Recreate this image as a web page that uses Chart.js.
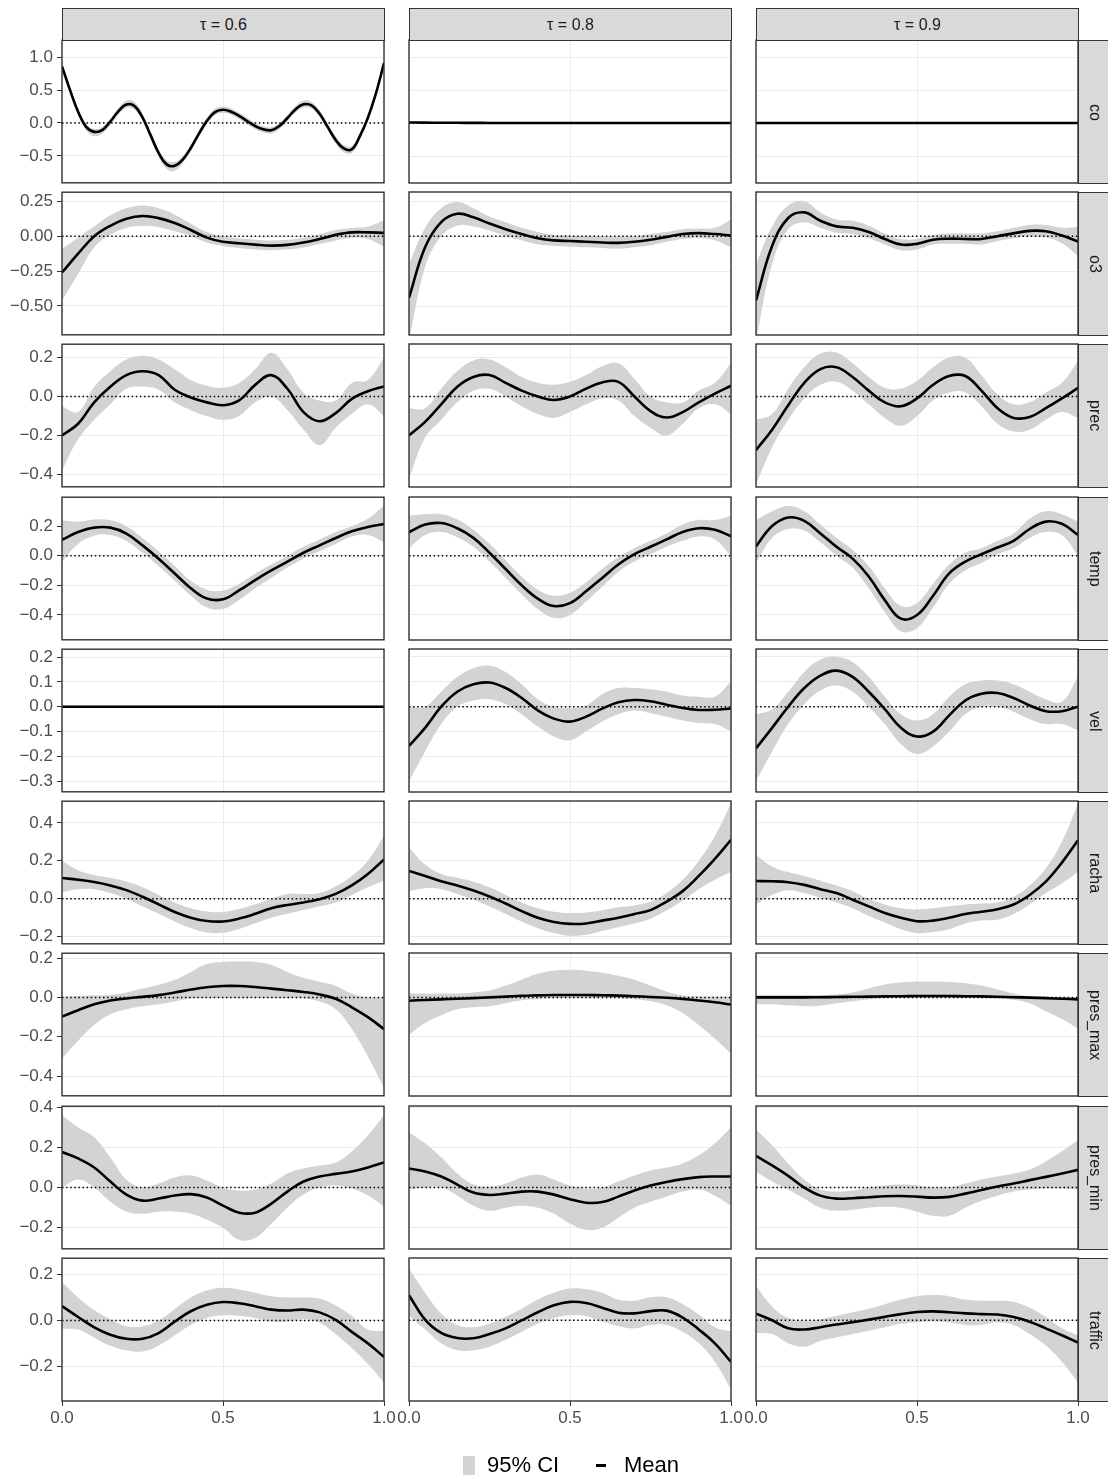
<!DOCTYPE html>
<html>
<head>
<meta charset="utf-8">
<script src="https://cdn.jsdelivr.net/npm/chart.js@4.4.1/dist/chart.umd.min.js"></script>
<style>
  body { margin:0; background:#fff; width:1108px; height:1479px; position:relative; overflow:hidden;
         font-family:"Liberation Sans", Arial, sans-serif; }
  canvas { position:absolute; }
  .strip-top { position:absolute; top:8px; height:33px; background:#d9d9d9; border:1px solid #333;
               box-sizing:border-box; color:#1a1a1a; font-size:16px; display:flex; align-items:center; justify-content:center; }
  .strip-right { position:absolute; left:1078px; width:34px; height:144px; background:#d9d9d9; border:1px solid #333;
                 box-sizing:border-box; color:#1a1a1a; font-size:16px; display:flex; align-items:center; justify-content:center;
                 writing-mode:vertical-rl; }
  .legend-key { position:absolute; }
  .legend-text { position:absolute; top:1452px; font-size:22px; color:#000; line-height:26px; }
</style>
</head>
<body>
<script>
// x grids (fraction of the period)
const xs = [0,0.05,0.1,0.15,0.2,0.25,0.3,0.35,0.4,0.45,0.5,0.55,0.6,0.65,0.7,0.75,0.8,0.85,0.9,0.95,1];
const xsFine = [0,0.025,0.05,0.075,0.1,0.125,0.15,0.175,0.2,0.225,0.25,0.275,0.3,0.325,0.35,0.375,0.4,0.425,0.45,0.475,
                0.5,0.525,0.55,0.575,0.6,0.625,0.65,0.675,0.7,0.725,0.75,0.775,0.8,0.825,0.85,0.875,0.9,0.925,0.95,0.975,1];

const variables = ['co','o3','prec','temp','vel','racha','pres_max','pres_min','traffic'];
const taus = ['0.6','0.8','0.9'];

// co
const co_06_mean = [0.86,0.50,0.17,-0.06,-0.135,-0.108,0.02,0.178,0.28,0.259,0.085,-0.185,-0.453,-0.629,-0.651,-0.556,-0.38,-0.165,0.032,0.164,0.20,0.17,0.108,0.029,-0.046,-0.097,-0.11,-0.046,0.076,0.206,0.283,0.267,0.139,-0.06,-0.258,-0.387,-0.40,-0.2,0.08,0.45,0.91];
const co_06_lo = [0.82,0.45,0.12,-0.11,-0.2,-0.16,-0.03,0.13,0.23,0.205,0.03,-0.24,-0.51,-0.7,-0.73,-0.61,-0.43,-0.21,-0.015,0.12,0.155,0.125,0.06,-0.02,-0.095,-0.145,-0.16,-0.095,0.03,0.16,0.235,0.215,0.09,-0.11,-0.31,-0.445,-0.46,-0.25,0.04,0.41,0.87];
const co_06_hi = [0.9,0.55,0.22,-0.01,-0.09,-0.06,0.07,0.225,0.34,0.32,0.14,-0.13,-0.4,-0.57,-0.59,-0.5,-0.33,-0.12,0.08,0.215,0.25,0.22,0.155,0.075,0.0,-0.05,-0.065,0.0,0.12,0.255,0.34,0.32,0.19,-0.01,-0.21,-0.335,-0.35,-0.155,0.12,0.49,0.95];
const co_08_mean = [0.008,0.006,0.004,0.003,0.002,0.001,0,0,0,0,0,0,0,0,0,0,0,0,0,0,0];
const co_08_lo = [-0.004,-0.005,-0.006,-0.006,-0.006,-0.006,-0.006,-0.006,-0.006,-0.006,-0.006,-0.006,-0.006,-0.006,-0.006,-0.006,-0.006,-0.006,-0.006,-0.006,-0.006];
const co_08_hi = [0.02,0.017,0.014,0.012,0.01,0.008,0.006,0.006,0.006,0.006,0.006,0.006,0.006,0.006,0.006,0.006,0.006,0.006,0.006,0.006,0.006];
const co_09_mean = [0,0,0,0,0,0,0,0,0,0,0,0,0,0,0,0,0,0,0,0,0];
const co_09_lo = [-0.006,-0.006,-0.006,-0.006,-0.006,-0.006,-0.006,-0.006,-0.006,-0.006,-0.006,-0.006,-0.006,-0.006,-0.006,-0.006,-0.006,-0.006,-0.006,-0.006,-0.006];
const co_09_hi = [0.006,0.006,0.006,0.006,0.006,0.006,0.006,0.006,0.006,0.006,0.006,0.006,0.006,0.006,0.006,0.006,0.006,0.006,0.006,0.006,0.006];

// o3
const o3_06_mean = [-0.26,-0.125,0.0,0.075,0.125,0.145,0.13,0.095,0.045,-0.01,-0.04,-0.05,-0.06,-0.067,-0.062,-0.045,-0.02,0.01,0.028,0.028,0.024];
const o3_06_lo = [-0.46,-0.27,-0.08,0.01,0.06,0.075,0.065,0.035,0.0,-0.045,-0.07,-0.085,-0.095,-0.1,-0.095,-0.08,-0.055,-0.03,-0.01,-0.02,-0.075];
const o3_06_hi = [-0.09,-0.01,0.07,0.15,0.2,0.22,0.2,0.155,0.09,0.03,0.0,-0.015,-0.025,-0.03,-0.025,-0.01,0.015,0.045,0.06,0.07,0.115];
const o3_08_mean = [-0.44,-0.08,0.10,0.16,0.135,0.09,0.05,0.015,-0.015,-0.03,-0.035,-0.04,-0.045,-0.048,-0.04,-0.025,-0.005,0.015,0.022,0.015,0.005];
const o3_08_lo = [-0.75,-0.22,0.0,0.075,0.07,0.04,0.0,-0.03,-0.06,-0.07,-0.075,-0.08,-0.085,-0.09,-0.08,-0.065,-0.04,-0.02,-0.015,-0.03,-0.08];
const o3_08_hi = [-0.2,0.06,0.2,0.245,0.2,0.14,0.1,0.06,0.03,0.01,0.005,0.0,0.0,-0.005,0.0,0.015,0.03,0.05,0.055,0.06,0.12];
const o3_09_mean = [-0.46,-0.07,0.13,0.17,0.11,0.07,0.06,0.03,-0.02,-0.06,-0.055,-0.025,-0.018,-0.02,-0.02,0.0,0.02,0.038,0.035,0.005,-0.038];
const o3_09_lo = [-0.75,-0.2,0.05,0.1,0.06,0.025,0.015,-0.015,-0.06,-0.1,-0.095,-0.06,-0.055,-0.055,-0.06,-0.035,-0.015,0.0,-0.01,-0.05,-0.14];
const o3_09_hi = [-0.2,0.07,0.22,0.25,0.17,0.12,0.11,0.075,0.02,-0.02,-0.02,0.01,0.02,0.02,0.02,0.035,0.06,0.08,0.08,0.06,0.065];

// prec
const prec_06_mean = [-0.2,-0.14,-0.03,0.05,0.11,0.13,0.11,0.035,-0.005,-0.03,-0.045,-0.02,0.06,0.11,0.04,-0.08,-0.127,-0.085,-0.012,0.027,0.052];
const prec_06_lo = [-0.38,-0.22,-0.12,-0.04,0.04,0.05,0.035,-0.03,-0.07,-0.1,-0.12,-0.1,-0.03,0.0,-0.07,-0.17,-0.25,-0.16,-0.09,-0.04,-0.1];
const prec_06_hi = [-0.05,-0.08,0.05,0.13,0.19,0.21,0.19,0.14,0.085,0.055,0.045,0.07,0.14,0.225,0.14,0.02,-0.02,-0.02,0.07,0.085,0.2];
const prec_08_mean = [-0.2,-0.13,-0.04,0.05,0.1,0.11,0.07,0.03,0.0,-0.018,0.0,0.04,0.072,0.075,0.0,-0.075,-0.108,-0.08,-0.03,0.015,0.055];
const prec_08_lo = [-0.42,-0.21,-0.12,-0.03,0.03,0.04,0.0,-0.05,-0.09,-0.11,-0.08,-0.04,-0.01,-0.02,-0.1,-0.16,-0.2,-0.14,-0.06,-0.04,-0.09];
const prec_08_hi = [-0.06,-0.06,0.04,0.13,0.185,0.19,0.15,0.1,0.07,0.06,0.075,0.11,0.155,0.17,0.09,0.0,-0.03,-0.03,0.03,0.07,0.17];
const prec_09_mean = [-0.275,-0.17,-0.045,0.07,0.14,0.15,0.1,0.03,-0.03,-0.05,-0.01,0.06,0.105,0.105,0.03,-0.06,-0.11,-0.105,-0.06,-0.01,0.044];
const prec_09_lo = [-0.45,-0.26,-0.12,-0.01,0.06,0.075,0.03,-0.04,-0.11,-0.15,-0.1,-0.02,0.02,0.02,-0.05,-0.14,-0.18,-0.17,-0.12,-0.08,-0.11];
const prec_09_hi = [-0.12,-0.09,0.04,0.15,0.22,0.225,0.17,0.1,0.045,0.04,0.08,0.15,0.2,0.2,0.11,0.01,-0.04,-0.03,0.02,0.07,0.18];

// temp
const temp_06_mean = [0.108,0.16,0.19,0.19,0.15,0.07,-0.02,-0.12,-0.22,-0.29,-0.295,-0.235,-0.165,-0.1,-0.04,0.02,0.07,0.12,0.165,0.195,0.215];
const temp_06_lo = [-0.04,0.08,0.135,0.14,0.1,0.02,-0.07,-0.17,-0.27,-0.35,-0.36,-0.3,-0.22,-0.15,-0.08,-0.02,0.03,0.08,0.13,0.14,0.09];
const temp_06_hi = [0.24,0.23,0.245,0.24,0.2,0.12,0.03,-0.07,-0.17,-0.23,-0.235,-0.19,-0.12,-0.06,0.0,0.06,0.11,0.16,0.2,0.25,0.34];
const temp_08_mean = [0.158,0.21,0.22,0.185,0.12,0.02,-0.09,-0.2,-0.29,-0.34,-0.32,-0.24,-0.15,-0.06,0.01,0.06,0.11,0.16,0.185,0.175,0.131];
const temp_08_lo = [0.05,0.14,0.16,0.125,0.06,-0.04,-0.15,-0.26,-0.36,-0.42,-0.4,-0.31,-0.21,-0.11,-0.04,0.01,0.06,0.1,0.13,0.11,0.0];
const temp_08_hi = [0.27,0.28,0.28,0.245,0.175,0.08,-0.03,-0.14,-0.23,-0.27,-0.25,-0.18,-0.09,-0.01,0.05,0.1,0.15,0.21,0.24,0.24,0.27];
const temp_09_mean = [0.063,0.2,0.258,0.235,0.15,0.06,-0.02,-0.14,-0.3,-0.425,-0.4,-0.27,-0.12,-0.04,0.01,0.055,0.1,0.18,0.23,0.215,0.14];
const temp_09_lo = [-0.05,0.12,0.18,0.17,0.09,0.0,-0.08,-0.22,-0.38,-0.51,-0.49,-0.35,-0.19,-0.1,-0.05,0.01,0.05,0.12,0.16,0.14,0.0];
const temp_09_hi = [0.24,0.3,0.335,0.3,0.21,0.12,0.04,-0.07,-0.22,-0.34,-0.32,-0.19,-0.06,0.02,0.05,0.1,0.15,0.25,0.3,0.28,0.23];

// vel
const vel_06_mean = [0,0,0,0,0,0,0,0,0,0,0,0,0,0,0,0,0,0,0,0,0];
const vel_06_lo = [-0.004,-0.004,-0.004,-0.004,-0.004,-0.004,-0.004,-0.004,-0.004,-0.004,-0.004,-0.004,-0.004,-0.004,-0.004,-0.004,-0.004,-0.004,-0.004,-0.004,-0.004];
const vel_06_hi = [0.004,0.004,0.004,0.004,0.004,0.004,0.004,0.004,0.004,0.004,0.004,0.004,0.004,0.004,0.004,0.004,0.004,0.004,0.004,0.004,0.004];
const vel_08_mean = [-0.158,-0.085,0.0,0.06,0.09,0.097,0.075,0.035,-0.015,-0.048,-0.06,-0.04,-0.008,0.018,0.027,0.022,0.008,-0.005,-0.013,-0.012,-0.007];
const vel_08_lo = [-0.3,-0.18,-0.07,0.0,0.025,0.03,0.01,-0.03,-0.08,-0.12,-0.135,-0.1,-0.06,-0.03,-0.015,-0.025,-0.04,-0.055,-0.065,-0.07,-0.1];
const vel_08_hi = [0.0,0.0,0.06,0.12,0.155,0.165,0.14,0.09,0.03,0.0,-0.005,0.005,0.05,0.075,0.075,0.07,0.06,0.045,0.04,0.04,0.1];
const vel_09_mean = [-0.168,-0.085,0.0,0.075,0.125,0.145,0.12,0.06,-0.01,-0.085,-0.12,-0.1,-0.035,0.025,0.052,0.055,0.035,0.005,-0.018,-0.018,0.0];
const vel_09_lo = [-0.3,-0.18,-0.07,0.01,0.065,0.085,0.06,0.0,-0.07,-0.15,-0.19,-0.16,-0.1,-0.03,0.0,0.0,-0.02,-0.05,-0.07,-0.07,-0.095];
const vel_09_hi = [-0.03,-0.01,0.06,0.14,0.19,0.2,0.18,0.12,0.04,-0.03,-0.055,-0.03,0.04,0.09,0.105,0.105,0.09,0.06,0.03,0.02,0.12];

// racha
const racha_06_mean = [0.109,0.1,0.088,0.07,0.045,0.01,-0.03,-0.07,-0.1,-0.118,-0.12,-0.105,-0.08,-0.05,-0.033,-0.02,-0.003,0.025,0.07,0.13,0.207];
const racha_06_lo = [0.035,0.05,0.05,0.03,0.0,-0.04,-0.08,-0.12,-0.155,-0.178,-0.18,-0.16,-0.13,-0.1,-0.08,-0.06,-0.04,-0.02,0.02,0.06,0.095];
const racha_06_hi = [0.2,0.15,0.125,0.11,0.09,0.06,0.02,-0.02,-0.05,-0.068,-0.07,-0.055,-0.03,0.0,0.025,0.025,0.03,0.065,0.12,0.2,0.33];
const racha_08_mean = [0.146,0.12,0.092,0.07,0.043,0.012,-0.025,-0.065,-0.1,-0.122,-0.132,-0.13,-0.115,-0.1,-0.08,-0.06,-0.015,0.04,0.12,0.21,0.31];
const racha_08_lo = [0.04,0.055,0.05,0.025,-0.005,-0.04,-0.08,-0.12,-0.155,-0.18,-0.195,-0.19,-0.17,-0.15,-0.13,-0.105,-0.06,-0.01,0.05,0.1,0.14];
const racha_08_hi = [0.27,0.18,0.13,0.11,0.09,0.06,0.02,-0.02,-0.05,-0.068,-0.075,-0.072,-0.06,-0.045,-0.035,-0.015,0.03,0.1,0.2,0.33,0.5];
const racha_09_mean = [0.093,0.092,0.087,0.073,0.05,0.03,-0.005,-0.04,-0.075,-0.1,-0.118,-0.115,-0.1,-0.08,-0.068,-0.055,-0.03,0.02,0.09,0.19,0.307];
const racha_09_lo = [-0.03,0.02,0.045,0.03,0.005,-0.02,-0.05,-0.09,-0.125,-0.16,-0.18,-0.175,-0.16,-0.13,-0.115,-0.11,-0.08,-0.03,0.03,0.08,0.14];
const racha_09_hi = [0.23,0.17,0.14,0.12,0.095,0.07,0.04,0.0,-0.03,-0.05,-0.055,-0.05,-0.04,-0.03,-0.025,-0.02,0.01,0.07,0.16,0.3,0.5];

// pres_max
const pres_max_06_mean = [-0.097,-0.065,-0.035,-0.015,-0.005,0.003,0.012,0.025,0.04,0.052,0.058,0.058,0.053,0.045,0.037,0.028,0.015,-0.007,-0.05,-0.1,-0.161];
const pres_max_06_lo = [-0.31,-0.22,-0.14,-0.085,-0.06,-0.045,-0.035,-0.02,-0.005,-0.003,-0.003,-0.003,-0.003,-0.003,-0.003,-0.005,-0.02,-0.06,-0.16,-0.3,-0.46];
const pres_max_06_hi = [0.005,0.008,0.01,0.012,0.025,0.045,0.065,0.09,0.13,0.17,0.18,0.183,0.18,0.165,0.13,0.1,0.08,0.06,0.02,0.0,0.0];
const pres_max_08_mean = [-0.017,-0.013,-0.01,-0.007,-0.004,0.0,0.004,0.008,0.01,0.012,0.012,0.012,0.011,0.009,0.006,0.002,-0.002,-0.008,-0.016,-0.025,-0.036];
const pres_max_08_lo = [-0.19,-0.13,-0.09,-0.06,-0.05,-0.045,-0.03,-0.015,-0.008,-0.005,-0.005,-0.005,-0.005,-0.006,-0.01,-0.02,-0.04,-0.08,-0.14,-0.21,-0.285];
const pres_max_08_hi = [0.02,0.02,0.02,0.02,0.025,0.035,0.06,0.09,0.12,0.135,0.14,0.135,0.125,0.11,0.09,0.06,0.03,0.01,0.005,0.004,0.003];
const pres_max_09_mean = [0,0,0,0,0.001,0.002,0.003,0.004,0.005,0.006,0.007,0.007,0.007,0.006,0.005,0.003,0.001,-0.001,-0.004,-0.007,-0.01];
const pres_max_09_lo = [-0.035,-0.035,-0.04,-0.045,-0.042,-0.03,-0.02,-0.01,-0.003,-0.001,-0.001,-0.001,-0.001,-0.002,-0.003,-0.006,-0.012,-0.03,-0.07,-0.11,-0.158];
const pres_max_09_hi = [0.012,0.012,0.012,0.012,0.012,0.015,0.025,0.045,0.065,0.075,0.08,0.08,0.078,0.072,0.06,0.04,0.02,0.005,0.0,-0.003,-0.005];

// pres_min
const pres_min_06_mean = [0.177,0.145,0.1,0.03,-0.035,-0.065,-0.055,-0.04,-0.033,-0.05,-0.09,-0.125,-0.125,-0.08,-0.02,0.03,0.055,0.068,0.08,0.1,0.125];
const pres_min_06_lo = [0.0,0.04,0.0,-0.07,-0.12,-0.13,-0.12,-0.12,-0.13,-0.16,-0.2,-0.26,-0.25,-0.18,-0.1,-0.035,0.0,0.01,-0.005,-0.04,-0.095];
const pres_min_06_hi = [0.36,0.3,0.25,0.15,0.04,0.0,0.02,0.05,0.06,0.035,0.0,-0.015,-0.01,0.02,0.07,0.095,0.11,0.125,0.18,0.26,0.36];
const pres_min_08_mean = [0.095,0.08,0.055,0.015,-0.025,-0.037,-0.03,-0.02,-0.02,-0.035,-0.058,-0.075,-0.072,-0.045,-0.015,0.01,0.028,0.042,0.052,0.055,0.055];
const pres_min_08_lo = [-0.01,0.0,0.0,-0.04,-0.09,-0.115,-0.1,-0.09,-0.1,-0.13,-0.18,-0.21,-0.2,-0.15,-0.1,-0.07,-0.045,-0.02,-0.01,-0.04,-0.09];
const pres_min_08_hi = [0.275,0.22,0.15,0.07,0.015,0.005,0.02,0.05,0.065,0.04,0.01,-0.005,0.0,0.03,0.06,0.085,0.1,0.12,0.16,0.22,0.3];
const pres_min_09_mean = [0.158,0.11,0.058,0.0,-0.04,-0.055,-0.053,-0.048,-0.043,-0.042,-0.045,-0.05,-0.046,-0.03,-0.012,0.005,0.02,0.037,0.053,0.07,0.088];
const pres_min_09_lo = [0.08,0.03,-0.01,-0.055,-0.1,-0.115,-0.11,-0.1,-0.095,-0.1,-0.12,-0.14,-0.14,-0.1,-0.065,-0.04,-0.02,-0.01,-0.005,-0.005,-0.01];
const pres_min_09_hi = [0.29,0.21,0.12,0.04,-0.01,-0.02,-0.015,0.0,0.01,0.015,0.01,0.0,0.0,0.02,0.04,0.055,0.07,0.09,0.13,0.18,0.235];

// traffic
const traffic_06_mean = [0.062,0.015,-0.03,-0.062,-0.08,-0.08,-0.055,-0.005,0.04,0.068,0.08,0.075,0.062,0.047,0.043,0.047,0.035,0.002,-0.05,-0.1,-0.159];
const traffic_06_lo = [-0.036,-0.04,-0.075,-0.11,-0.13,-0.135,-0.11,-0.065,-0.02,0.01,0.022,0.02,0.01,-0.005,-0.005,0.005,-0.01,-0.06,-0.12,-0.19,-0.27];
const traffic_06_hi = [0.167,0.1,0.045,0.005,-0.025,-0.025,0.0,0.05,0.1,0.13,0.142,0.135,0.12,0.105,0.1,0.1,0.095,0.065,0.02,-0.04,-0.045];
const traffic_08_mean = [0.109,0.003,-0.055,-0.077,-0.078,-0.06,-0.035,0.0,0.035,0.065,0.08,0.075,0.055,0.033,0.03,0.04,0.042,0.012,-0.04,-0.1,-0.181];
const traffic_08_lo = [0.02,-0.04,-0.1,-0.13,-0.13,-0.115,-0.085,-0.05,-0.015,0.01,0.022,0.018,-0.005,-0.025,-0.035,-0.02,-0.02,-0.05,-0.1,-0.18,-0.3];
const traffic_08_hi = [0.225,0.12,0.03,-0.02,-0.03,-0.015,0.015,0.05,0.09,0.12,0.138,0.135,0.12,0.09,0.085,0.1,0.1,0.07,0.025,-0.03,-0.048];
const traffic_09_mean = [0.029,0.0,-0.035,-0.04,-0.03,-0.018,-0.008,0.003,0.015,0.027,0.036,0.039,0.035,0.03,0.027,0.025,0.014,-0.006,-0.035,-0.065,-0.097];
const traffic_09_lo = [-0.055,-0.06,-0.1,-0.115,-0.09,-0.075,-0.06,-0.045,-0.03,-0.015,-0.008,-0.005,-0.01,-0.02,-0.02,-0.01,-0.02,-0.06,-0.11,-0.18,-0.27];
const traffic_09_hi = [0.15,0.06,0.01,-0.002,0.005,0.02,0.035,0.05,0.07,0.09,0.105,0.11,0.105,0.09,0.085,0.085,0.08,0.055,0.015,-0.035,-0.065];

// axes per row (free y scales)
const yMin = [-0.909,-0.707,-0.464,-0.569,-0.343,-0.238,-0.5,-0.305,-0.351];
const yMax = [1.258,0.316,0.269,0.396,0.232,0.514,0.225,0.405,0.271];
const yTicks = [
  [-0.5,0,0.5,1],
  [-0.5,-0.25,0,0.25],
  [-0.4,-0.2,0,0.2],
  [-0.4,-0.2,0,0.2],
  [-0.3,-0.2,-0.1,0,0.1,0.2],
  [-0.2,0,0.2,0.4],
  [-0.4,-0.2,0,0.2],
  [-0.2,0,0.2,0.4],
  [-0.2,0,0.2]
];
const yDecimals = [1,2,1,1,1,1,1,1,1];
const xTicks = [0,0.5,1];

const panels = [
  [[xsFine,co_06_mean,co_06_lo,co_06_hi],[xs,co_08_mean,co_08_lo,co_08_hi],[xs,co_09_mean,co_09_lo,co_09_hi]],
  [[xs,o3_06_mean,o3_06_lo,o3_06_hi],[xs,o3_08_mean,o3_08_lo,o3_08_hi],[xs,o3_09_mean,o3_09_lo,o3_09_hi]],
  [[xs,prec_06_mean,prec_06_lo,prec_06_hi],[xs,prec_08_mean,prec_08_lo,prec_08_hi],[xs,prec_09_mean,prec_09_lo,prec_09_hi]],
  [[xs,temp_06_mean,temp_06_lo,temp_06_hi],[xs,temp_08_mean,temp_08_lo,temp_08_hi],[xs,temp_09_mean,temp_09_lo,temp_09_hi]],
  [[xs,vel_06_mean,vel_06_lo,vel_06_hi],[xs,vel_08_mean,vel_08_lo,vel_08_hi],[xs,vel_09_mean,vel_09_lo,vel_09_hi]],
  [[xs,racha_06_mean,racha_06_lo,racha_06_hi],[xs,racha_08_mean,racha_08_lo,racha_08_hi],[xs,racha_09_mean,racha_09_lo,racha_09_hi]],
  [[xs,pres_max_06_mean,pres_max_06_lo,pres_max_06_hi],[xs,pres_max_08_mean,pres_max_08_lo,pres_max_08_hi],[xs,pres_max_09_mean,pres_max_09_lo,pres_max_09_hi]],
  [[xs,pres_min_06_mean,pres_min_06_lo,pres_min_06_hi],[xs,pres_min_08_mean,pres_min_08_lo,pres_min_08_hi],[xs,pres_min_09_mean,pres_min_09_lo,pres_min_09_hi]],
  [[xs,traffic_06_mean,traffic_06_lo,traffic_06_hi],[xs,traffic_08_mean,traffic_08_lo,traffic_08_hi],[xs,traffic_09_mean,traffic_09_lo,traffic_09_hi]]
];

// layout of the facet grid
const panelLeft = [62, 409, 756];
const panelTop = [40, 192, 344, 497, 649, 801, 953, 1106, 1258];
const panelW = 322, panelH = 143;
const FONT = '"Liberation Sans", Arial, sans-serif';
const bandColor = '#d3d3d3';

function fmt(v, d) {
  const s = Math.abs(v).toFixed(d);
  return v < 0 ? '\u2212' + s : s;
}

function pts(xv, yv) {
  return xv.map((x, i) => ({x: x, y: yv[i]}));
}

// full panel frame like theme_bw
const panelBorder = {
  id: 'panelBorder',
  afterDraw(chart) {
    const a = chart.chartArea, ctx = chart.ctx;
    ctx.save();
    ctx.strokeStyle = '#333333';
    ctx.lineWidth = 1.4;
    ctx.strokeRect(a.left, a.top, a.right - a.left, a.bottom - a.top);
    ctx.restore();
  }
};

function makePanel(r, c) {
  const firstCol = c === 0;
  const lastRow = r === variables.length - 1;
  const padL = firstCol ? 62 : 20, padR = 20, padT = 14, padB = lastRow ? 36 : 14;

  const cv = document.createElement('canvas');
  cv.width = panelW + padL + padR;
  cv.height = panelH + padT + padB;
  cv.style.left = (panelLeft[c] - padL) + 'px';
  cv.style.top = (panelTop[r] - padT) + 'px';
  document.body.appendChild(cv);

  const [x, mean, lo, hi] = panels[r][c];

  new Chart(cv, {
    type: 'line',
    data: {
      datasets: [
        { data: pts(x, lo), borderColor: 'rgba(0,0,0,0)', borderWidth: 0, pointRadius: 0, fill: false,
          tension: 0.4, clip: 0, order: 4 },
        { data: pts(x, hi), borderColor: 'rgba(0,0,0,0)', borderWidth: 0, pointRadius: 0, fill: '-1',
          backgroundColor: bandColor, tension: 0.4, clip: 0, order: 3 },
        { data: [{x: 0, y: 0}, {x: 1, y: 0}], borderColor: '#000', borderWidth: 1.5, borderDash: [1.5, 2.6],
          pointRadius: 0, fill: false, tension: 0, clip: 0, order: 2 },
        { data: pts(x, mean), borderColor: '#000', borderWidth: 2.6, pointRadius: 0, fill: false,
          tension: 0.4, clip: 0, order: 1 }
      ]
    },
    options: {
      responsive: false,
      animation: false,
      devicePixelRatio: 1,
      layout: { padding: { left: 0, right: padR, top: padT, bottom: 0 } },
      plugins: { legend: { display: false }, tooltip: { enabled: false } },
      scales: {
        x: {
          type: 'linear', min: 0, max: 1,
          afterBuildTicks: s => { s.ticks = xTicks.map(v => ({value: v})); },
          afterFit: s => { s.height = padB; },
          grid: { color: '#ebebeb', lineWidth: 1, tickColor: '#333333', tickLength: 5, drawTicks: lastRow },
          border: { display: false },
          ticks: { display: lastRow, color: '#4d4d4d', font: { family: FONT, size: 17 }, padding: 2,
                   maxRotation: 0, autoSkip: false, callback: v => fmt(v, 1) }
        },
        y: {
          min: yMin[r], max: yMax[r],
          afterBuildTicks: s => { s.ticks = yTicks[r].map(v => ({value: v})); },
          afterFit: s => { s.width = padL; },
          grid: { color: '#ebebeb', lineWidth: 1, tickColor: '#333333', tickLength: 5, drawTicks: firstCol },
          border: { display: false },
          ticks: { display: firstCol, color: '#4d4d4d', font: { family: FONT, size: 17 }, padding: 4,
                   autoSkip: false, callback: v => fmt(v, yDecimals[r]) }
        }
      }
    },
    plugins: [panelBorder]
  });
}

for (let r = 0; r < variables.length; r++) {
  for (let c = 0; c < taus.length; c++) makePanel(r, c);
}

// facet strips
taus.forEach((t, c) => {
  const d = document.createElement('div');
  d.className = 'strip-top';
  d.style.left = panelLeft[c] + 'px';
  d.style.width = (panelW + 1) + 'px';
  d.textContent = '\u03C4 = ' + t;
  document.body.appendChild(d);
});
variables.forEach((v, r) => {
  const d = document.createElement('div');
  d.className = 'strip-right';
  d.style.top = panelTop[r] + 'px';
  d.textContent = v;
  document.body.appendChild(d);
});

// legend
const key1 = document.createElement('div');
key1.className = 'legend-key';
Object.assign(key1.style, { left: '463px', top: '1456px', width: '12px', height: '19px', background: bandColor });
document.body.appendChild(key1);
const txt1 = document.createElement('div');
txt1.className = 'legend-text';
txt1.style.left = '487px';
txt1.textContent = '95% CI';
document.body.appendChild(txt1);
const key2 = document.createElement('div');
key2.className = 'legend-key';
Object.assign(key2.style, { left: '596px', top: '1464px', width: '10px', height: '3px', background: '#000' });
document.body.appendChild(key2);
const txt2 = document.createElement('div');
txt2.className = 'legend-text';
txt2.style.left = '624px';
txt2.textContent = 'Mean';
document.body.appendChild(txt2);
</script>
</body>
</html>
